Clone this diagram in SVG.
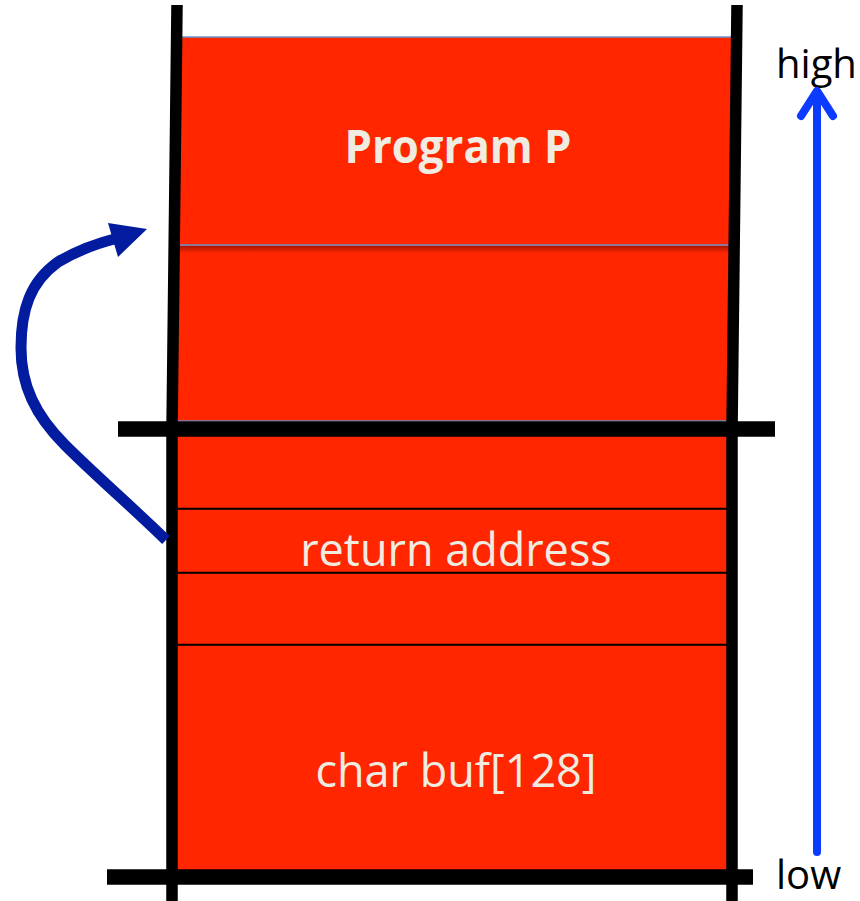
<svg xmlns="http://www.w3.org/2000/svg" width="860" height="901" viewBox="0 0 860 901">
<defs>
  <linearGradient id="shade" x1="0" y1="0" x2="0" y2="1">
    <stop offset="0" stop-color="#A81500"/>
    <stop offset="1" stop-color="#FF2600"/>
  </linearGradient>
</defs>
<style>
  .red { fill: #FF2600; }
  .edge { stroke: #6A93CC; stroke-width: 1.6; fill: none; }
  .sep { stroke: #000; stroke-width: 2; }
  .wall { stroke: #000; stroke-width: 11.5; fill: none; }
  .bar { stroke: #000; stroke-width: 15.5; }
  .lbl { font-family: "Open Sans", "Liberation Sans", sans-serif; fill: #F0ECE2; text-anchor: middle; }
  .axis { font-family: "Open Sans", "Liberation Sans", sans-serif; fill: #000; font-size: 40px; }
</style>
<rect width="860" height="901" fill="#fff"/>

<g id="program-p">
  <polygon class="red" points="177,37 737,37 734.5,245 175,245"/>
  <text class="lbl" x="458" y="163" font-size="46" font-weight="bold" textLength="227" lengthAdjust="spacingAndGlyphs">Program P</text>
</g>
<g id="upper-block">
  <polygon class="red" points="175,245 734.5,245 732.5,421 173,421"/>
  <rect x="175" y="246" width="559" height="7" fill="url(#shade)"/>
</g>
<g id="frame-above">
  <line class="edge" x1="177" y1="37" x2="737" y2="37"/>
  <line class="edge" x1="175" y1="245" x2="734.5" y2="245"/>
  <line class="edge" x1="173" y1="421" x2="732.5" y2="421"/>
</g>
<g id="stack-frame">
  <rect class="red" x="172" y="436" width="560" height="434"/>
  <line class="sep" x1="177" y1="508.7" x2="727" y2="508.7"/>
  <line class="sep" x1="177" y1="572.7" x2="727" y2="572.7"/>
  <line class="sep" x1="177" y1="644.7" x2="727" y2="644.7"/>
</g>
<g id="return-address">
  <text class="lbl" x="456" y="566" font-size="45">return address</text>
</g>
<g id="char-buf">
  <text class="lbl" x="456" y="787" font-size="45">char buf[128]</text>
</g>
<g id="walls">
  <polyline class="wall" points="177,5 172,430 172,901"/>
  <polyline class="wall" points="737,5 732,430 732,901"/>
  <line class="bar" x1="118" y1="429" x2="775" y2="429"/>
  <line class="bar" x1="107" y1="877" x2="753" y2="877"/>
</g>
<g id="labels">
  <text id="high" class="axis" x="776" y="78">high</text>
  <text id="low" class="axis" x="776" y="889">low</text>
</g>
<g id="connectors">
  <g id="overflow-arrow">
    <path d="M166,540 C 130,505 95,475 65,445 C 35,415 21,385 21,348 C 21,310 30,282 58,262 C 78,250 98,243 118,238" fill="none" stroke="#031C9F" stroke-width="11"/>
    <polygon points="147,229 108,223 118,257" fill="#031C9F"/>
  </g>
  <g id="address-arrow">
    <line x1="817" y1="852" x2="817" y2="92" stroke="#0A3BFF" stroke-width="8" stroke-linecap="round"/>
    <polyline points="801,116 817,91 833,116" fill="none" stroke="#0A3BFF" stroke-width="8" stroke-linecap="round" stroke-linejoin="round"/>
  </g>
</g>
</svg>
